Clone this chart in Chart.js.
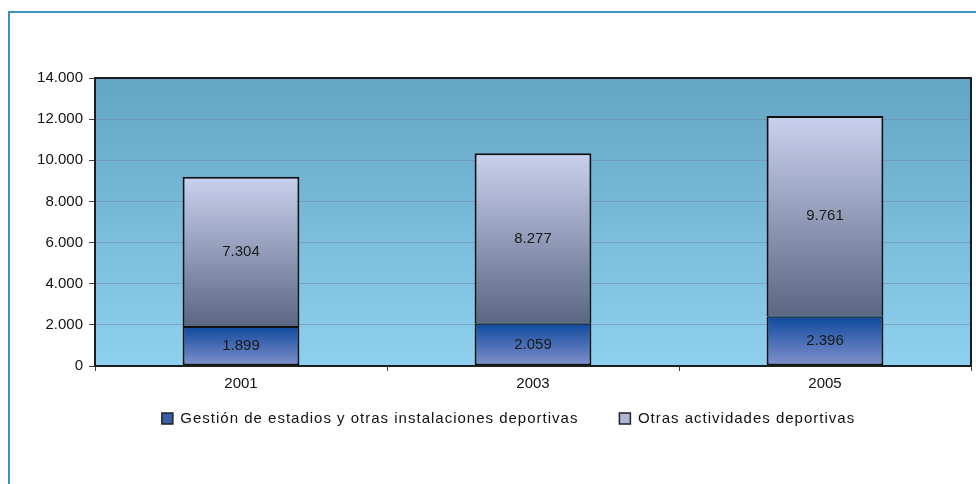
<!DOCTYPE html>
<html>
<head>
<meta charset="utf-8">
<script src="https://cdn.jsdelivr.net/npm/chart.js@4.4.1/dist/chart.umd.min.js"></script>
<style>
  html, body { margin: 0; padding: 0; background: #ffffff; }
  #wrap { position: relative; width: 976px; height: 484px; overflow: hidden; }
  #frame { position: absolute; left: 8px; top: 11px; width: 1000px; height: 500px;
           border-top: 2px solid #3a93bb; border-left: 2px solid #3a93bb; pointer-events: none; }
  canvas { position: absolute; left: 0; top: 0; }
</style>
</head>
<body>
<div id="wrap">
  <canvas id="c" width="976" height="484"></canvas>
  <div id="frame"></div>
</div>
<script>
const categories = ['2001', '2003', '2005'];
const seriesNames = ['Gestión de estadios y otras instalaciones deportivas', 'Otras actividades deportivas'];
const gestionValues = [1899, 2059, 2396];
const otrasValues = [7304, 8277, 9761];
const yTicks = [0, 2000, 4000, 6000, 8000, 10000, 12000, 14000];

function fmt(v) {
  return String(Math.round(v)).replace(/\B(?=(\d{3})+(?!\d))/g, '.');
}

const FONT = "'Liberation Sans', Arial, sans-serif";

function segGradient(context, topColor, bottomColor, fallback) {
  const chart = context.chart;
  if (!chart.chartArea || context.dataIndex === undefined || context.type !== 'data') return fallback;
  const y = chart.scales.y;
  const i = context.dataIndex, ds = context.datasetIndex;
  let start = 0;
  for (let k = 0; k < ds; k++) start += chart.data.datasets[k].data[i];
  const end = start + chart.data.datasets[ds].data[i];
  const g = chart.ctx.createLinearGradient(0, y.getPixelForValue(end), 0, y.getPixelForValue(start));
  g.addColorStop(0, topColor);
  g.addColorStop(1, bottomColor);
  return g;
}

const plotBg = {
  id: 'plotBg',
  beforeDraw(chart) {
    const {ctx, chartArea: a} = chart;
    const g = ctx.createLinearGradient(0, a.top, 0, a.bottom);
    g.addColorStop(0, '#64a4c4');
    g.addColorStop(1, '#8fd0ef');
    ctx.save();
    ctx.fillStyle = g;
    ctx.fillRect(a.left, a.top, a.right - a.left, a.bottom - a.top);
    ctx.restore();
  },
  afterDraw(chart) {
    const {ctx, chartArea: a} = chart;
    ctx.save();
    ctx.strokeStyle = '#1e1e1e';
    ctx.lineWidth = 2;
    ctx.strokeRect(a.left, a.top, a.right - a.left, a.bottom - a.top);
    ctx.restore();
  }
};

const valueLabels = {
  id: 'valueLabels',
  afterDatasetsDraw(chart) {
    const ctx = chart.ctx;
    ctx.save();
    ctx.font = '15px ' + FONT;
    ctx.fillStyle = '#1a1a1a';
    ctx.textAlign = 'center';
    ctx.textBaseline = 'middle';
    chart.data.datasets.forEach((ds, di) => {
      const meta = chart.getDatasetMeta(di);
      meta.data.forEach((el, i) => {
        ctx.fillText(fmt(ds.data[i]), el.x, (el.y + el.base) / 2);
      });
    });
    ctx.restore();
  }
};

const legendSpacing = {
  id: 'legendSpacing',
  beforeLayout(chart) {
    const lg = chart.legend;
    if (!lg || lg._lsWrapped) return;
    const origFit = lg.fit, origDraw = lg.draw;
    lg.fit = function () {
      const c = this.ctx; c.save(); c.letterSpacing = '1px'; origFit.call(this); c.restore();
    };
    lg.draw = function () {
      const c = this.ctx; c.save(); c.letterSpacing = '1px'; origDraw.apply(this, arguments); c.restore();
    };
    lg._lsWrapped = true;
  }
};

new Chart(document.getElementById('c'), {
  type: 'bar',
  data: {
    labels: categories,
    datasets: [
      {
        label: seriesNames[0],
        data: gestionValues,
        backgroundColor: (c) => segGradient(c, '#0f4a9e', '#8391cc', '#3a5fa8'),
        borderColor: '#111111',
        borderWidth: { left: 2, right: 2, top: 1, bottom: 2 },
        borderSkipped: false,
        barPercentage: 0.8,
        categoryPercentage: 0.5
      },
      {
        label: seriesNames[1],
        data: otrasValues,
        backgroundColor: (c) => segGradient(c, '#cad1ee', '#5a6682', '#a8b0d0'),
        borderColor: '#111111',
        borderWidth: { left: 2, right: 2, top: 2, bottom: 1 },
        borderSkipped: false,
        barPercentage: 0.8,
        categoryPercentage: 0.5
      }
    ]
  },
  options: {
    responsive: false,
    animation: false,
    devicePixelRatio: 1,
    layout: { padding: { top: 78, left: 46, right: 5, bottom: 48 } },
    scales: {
      x: {
        stacked: true,
        grid: { display: true, offset: true, drawOnChartArea: false, tickLength: 5, color: '#444444' },
        border: { display: true, color: '#1e1e1e', width: 2 },
        ticks: { font: { family: FONT, size: 15 }, color: '#111111', padding: 4 },
        afterFit(scale) { scale.height = 4; scale._computeLabelArea = () => undefined; }
      },
      y: {
        stacked: true,
        min: 0,
        max: 14000,
        afterBuildTicks(scale) { scale.ticks = yTicks.map(v => ({ value: v })); },
        grid: { color: 'rgba(110,140,165,0.55)', lineWidth: 1, tickLength: 6, tickColor: '#444444' },
        border: { display: true, color: '#1e1e1e', width: 2 },
        ticks: { font: { family: FONT, size: 15 }, color: '#111111', padding: 6, callback: (v) => fmt(v) },
        afterFit(scale) { scale.width = 49; scale._computeLabelArea = () => undefined; }
      }
    },
    plugins: {
      legend: {
        position: 'bottom',
        labels: {
          font: { family: FONT, size: 15 },
          color: '#111111',
          boxWidth: 11,
          boxHeight: 11,
          padding: 41,
          generateLabels(chart) {
            const fills = ['#3b5ea8', '#aeb6d6'];
            return chart.data.datasets.map((ds, i) => ({
              text: ds.label,
              fillStyle: fills[i],
              strokeStyle: '#222222',
              lineWidth: 1.5,
              hidden: false,
              datasetIndex: i,
              fontColor: '#111111'
            }));
          }
        }
      },
      tooltip: { enabled: false }
    }
  },
  plugins: [plotBg, valueLabels, legendSpacing]
});
</script>
</body>
</html>
